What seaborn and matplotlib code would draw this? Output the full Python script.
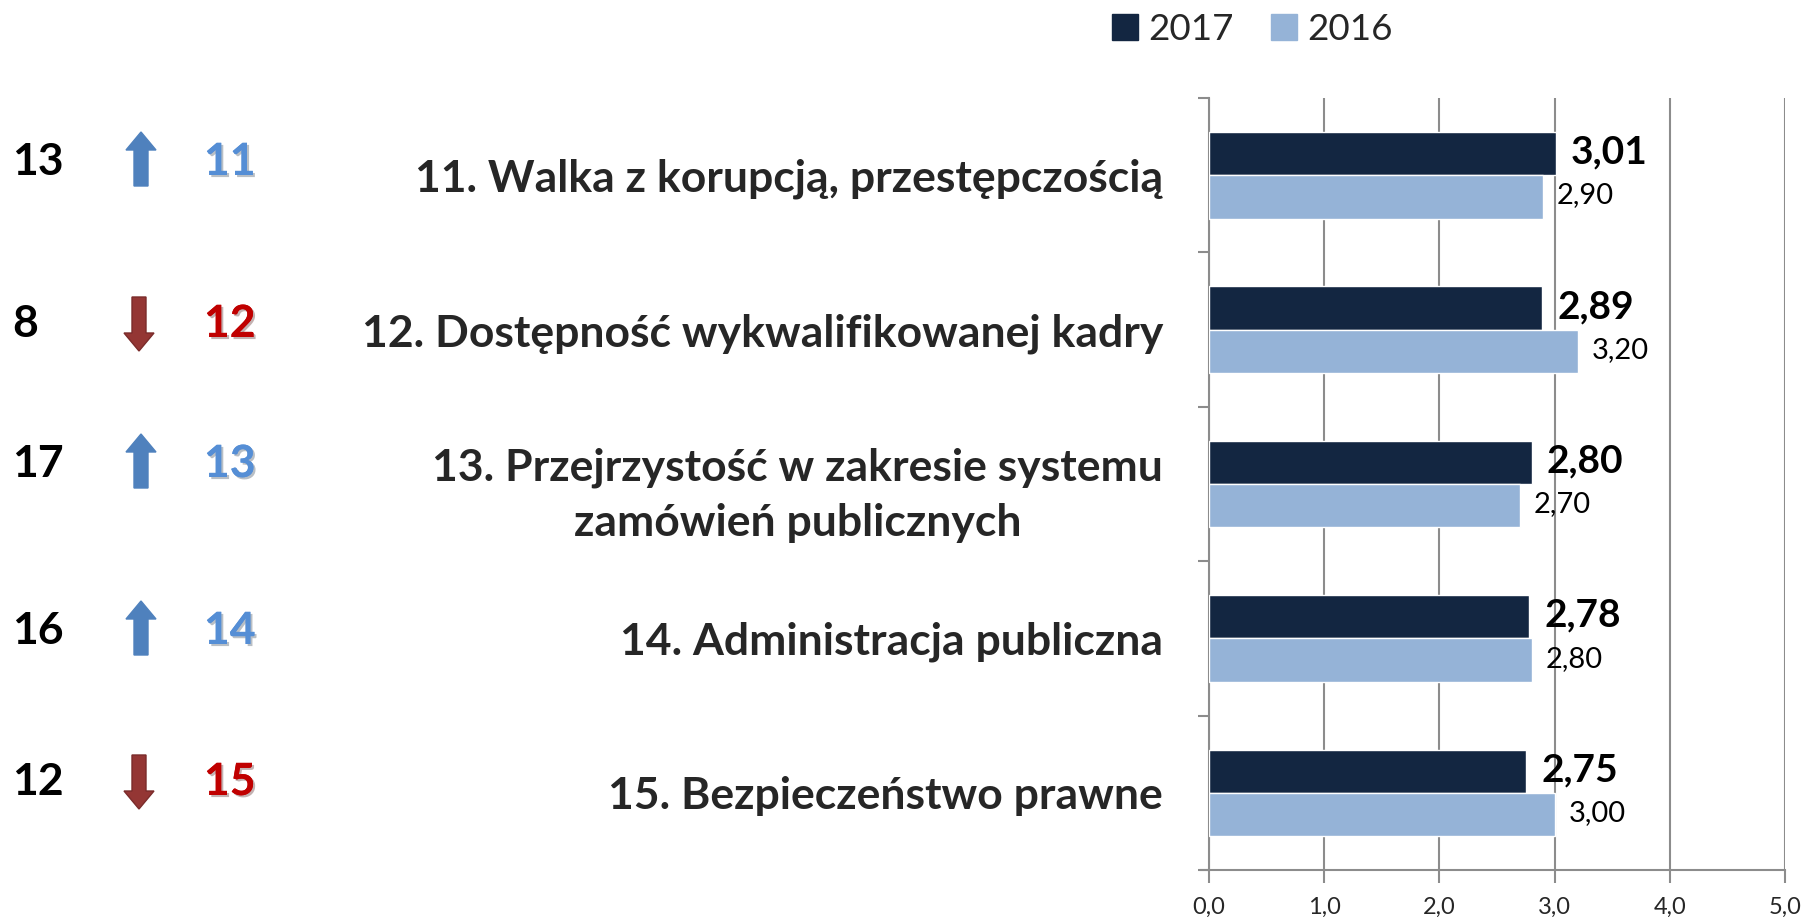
import numpy as np
import pandas as pd
import seaborn as sns
import matplotlib.pyplot as plt
import matplotlib.patheffects as pe
from matplotlib.patches import FancyArrow, Patch
from matplotlib.ticker import FuncFormatter

# data
categories = [
    "11. Walka z korupcją, przestępczością",
    "12. Dostępność wykwalifikowanej kadry",
    "13. Przejrzystość w zakresie systemu\nzamówień publicznych",
    "14. Administracja publiczna",
    "15. Bezpieczeństwo prawne",
]
values_2017 = [3.01, 2.89, 2.80, 2.78, 2.75]
values_2016 = [2.90, 3.20, 2.70, 2.80, 3.00]
rank_2016 = [13, 8, 17, 16, 12]
rank_2017 = [11, 12, 13, 14, 15]
xticks = [0, 1, 2, 3, 4, 5]

DARK = "#132641"
LIGHT = "#95B3D7"
UP = "#4F81BD"
DOWN = "#943634"

df = pd.DataFrame({
    "cat": categories * 2,
    "value": values_2017 + values_2016,
    "year": ["2017"] * 5 + ["2016"] * 5,
})

sns.set_theme(style="white")
plt.rcParams["font.family"] = ["Lato", "DejaVu Sans"]

fig = plt.figure(figsize=(18.06, 9.17), dpi=100)
ax = fig.add_axes([0.6694, 0.0513, 0.319, 0.8417])

sns.barplot(data=df, y="cat", x="value", hue="year", orient="h",
            palette={"2017": DARK, "2016": LIGHT}, width=0.56,
            saturation=1, legend=False, ax=ax, zorder=3)

ax.set_xlim(0, 5)
ax.set_ylim(4.5, -0.5)
ax.set_xticks(xticks)
ax.xaxis.set_major_formatter(FuncFormatter(lambda v, p: f"{v:.1f}".replace(".", ",")))
ax.grid(axis="x", color="#8c8c8c", linewidth=1.5, zorder=0)
ax.grid(axis="y", visible=False)
ax.set_xlabel("")
ax.set_ylabel("")
for s in ["top", "right"]:
    ax.spines[s].set_visible(False)
for s in ["left", "bottom"]:
    ax.spines[s].set_color("#8c8c8c")
    ax.spines[s].set_linewidth(1.5)
ax.tick_params(axis="x", which="major", length=9, width=1.5, color="#8c8c8c",
               direction="out", labelsize=17, pad=10, bottom=True)
ax.set_yticks(np.arange(-0.5, 5, 1), minor=True)
ax.tick_params(axis="y", which="minor", length=8, width=1.5, color="#8c8c8c",
               direction="out", left=True)
ax.tick_params(axis="y", which="major", length=0, pad=33)
for lbl in ax.get_yticklabels():
    lbl.set_fontsize(32)
    lbl.set_fontweight("bold")
    lbl.set_multialignment("center")
    lbl.set_linespacing(1.45)
# bottom spine sticks out a little on the left
ax.plot([-0.016, 0], [0, 0], transform=ax.transAxes, color="#8c8c8c",
        linewidth=1.5, clip_on=False)

# value labels
for cont, bold in zip(ax.containers, [True, False]):
    for bar in cont:
        w = bar.get_width()
        y = bar.get_y() + bar.get_height() / 2
        ax.annotate(f"{w:.2f}".replace(".", ","), (w, y),
                    xytext=(11 if bold else 10, 1), textcoords="offset points",
                    va="center", ha="left",
                    fontsize=28 if bold else 21,
                    fontweight="bold" if bold else "normal", color="black",
                    zorder=5)

# legend
handles = [Patch(color=DARK, label="2017"), Patch(color=LIGHT, label="2016")]
fig.legend(handles=handles, loc="upper center", bbox_to_anchor=(0.6935, 1.022),
           ncol=2, frameon=False, fontsize=26.5, handlelength=0.7,
           handleheight=0.7, handletextpad=0.3, columnspacing=1.0)

# left columns: previous rank, arrow, current rank
over = fig.add_axes([0, 0, 1, 1], facecolor="none")
over.set_xlim(0, 1806)
over.set_ylim(917, 0)
over.axis("off")
row_y = [162, 324, 464, 631, 782]
for y, r16, r17 in zip(row_y, rank_2016, rank_2017):
    over.text(12, y, str(r16), fontsize=32, fontweight="bold",
              ha="left", va="center", color="black")
    improved = r17 < r16
    col = UP if improved else DOWN
    num_col = "#558ED5" if improved else "#C00000"
    over.text(204, y, str(r17), fontsize=32, fontweight="bold",
              ha="left", va="center", color=num_col,
              path_effects=[pe.withSimplePatchShadow(offset=(1.5, -1.5), alpha=0.3),
                            pe.Normal()])
    half = 27
    if improved:
        arr = FancyArrow(141, y - 3 + half, 0, -2 * half, width=14, head_width=30,
                         head_length=18, length_includes_head=True,
                         color=col, ec=col)
    else:
        arr = FancyArrow(139, y - half, 0, 2 * half, width=14, head_width=30,
                         head_length=18, length_includes_head=True,
                         fc=col, ec="#7a2b2a", lw=1)
    over.add_patch(arr)

fig.savefig("out.png", dpi=100)
